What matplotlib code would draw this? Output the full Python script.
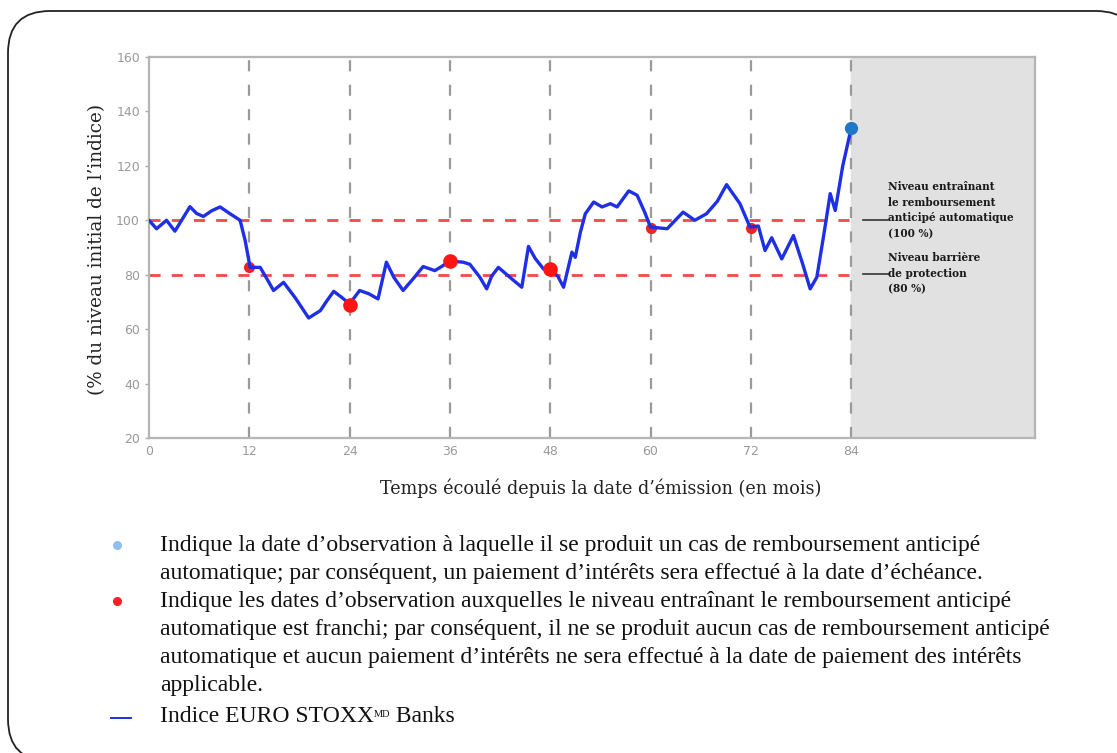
import matplotlib
matplotlib.use("Agg")
import matplotlib.pyplot as plt
from matplotlib.patches import FancyBboxPatch

# ---- data (months, % of initial level) ----
months = [0, 0.9, 2.1, 3.1, 4.0, 4.9, 5.7, 6.5, 7.5, 8.5, 9.7, 10.9, 11.5, 12.1, 13.3,
          14.2, 14.9, 16.1, 17.5, 19.1, 20.5, 21.3, 22.1, 23.0, 24.0, 25.2, 26.3, 27.4,
          28.4, 29.3, 30.4, 31.6, 32.8, 34.2, 35.1, 36.0, 37.6, 38.4, 39.6, 40.4, 41.0,
          41.8, 43.2, 44.6, 45.4, 46.2, 47.2, 48.0, 48.9, 49.6, 50.6, 51.0, 51.6, 52.2,
          53.2, 54.2, 55.2, 56.0, 57.4, 58.4, 59.3, 60.0, 62.0, 63.9, 65.3, 66.7, 68.0,
          69.1, 70.7, 71.9, 72.9, 73.7, 74.5, 75.7, 77.1, 78.2, 79.1, 79.9, 80.8, 81.5,
          82.1, 83.0, 84.0]
index_level = [100, 96.9, 100, 96, 100.5, 105, 102.5, 101.4, 103.5, 104.9, 102.4, 100, 92.6,
               82.7, 82.7, 78.0, 74.2, 77.2, 71.5, 64.1, 66.8, 70.5, 73.9, 71.8, 69.3, 74.2,
               73.0, 71.1, 84.6, 79.0, 74.2, 78.5, 83, 81.5, 83.2, 85, 84.6, 83.8, 79, 74.8,
               79.5, 82.7, 79.0, 75.4, 90.4, 86.0, 82.1, 82, 79.5, 75.4, 88.3, 86.4, 95.5,
               102.4, 106.7, 104.9, 106.1, 104.9, 110.8, 109.2, 103.0, 97.5, 96.9, 103, 100,
               102.4, 107.0, 113.1, 106.1, 97.5, 97.9, 88.9, 93.6, 85.8, 94.4, 84.0, 74.8,
               79.1, 96.0, 109.8, 103.6, 120.0, 133.7]

obs_months_red = [12, 24, 36, 48, 60, 72]
obs_values_red = [83, 69, 85, 82, 97, 97]
obs_month_blue = [84]
obs_value_blue = [134]

autocall_level = 100
barrier_level = 80
obs_dates = [12, 24, 36, 48, 60, 72, 84]
y_ticks = [20, 40, 60, 80, 100, 120, 140, 160]
x_ticks = [0, 12, 24, 36, 48, 60, 72, 84]

W, H = 1117, 753
fig = plt.figure(figsize=(W / 100, H / 100), dpi=100)

# ---- background (frame) ----
bg = fig.add_axes([0, 0, 1, 1])
bg.set_zorder(0)
bg.set_xlim(0, W)
bg.set_ylim(H, 0)
bg.axis('off')
frame = FancyBboxPatch((8, 11), 1130, 750, boxstyle="round,pad=0,rounding_size=42",
                       fc='white', ec='#222222', lw=1.3, clip_on=False)
bg.add_patch(frame)

# ---- chart ----
ax = fig.add_axes([149 / W, 1 - 438 / H, (1035 - 149) / W, (438 - 57) / H])
ax.set_zorder(2)
ax.set_xlim(0, 106)
ax.set_ylim(20, 160)
ax.axvspan(84, 106, color='#e1e1e1', zorder=0)
for s in ax.spines.values():
    s.set_color('#b5b5b5')
    s.set_linewidth(1.6)

for d in obs_dates:
    ax.axvline(d, color='#9a9a9a', lw=1.6, dashes=(5, 6), zorder=1)
ax.hlines([autocall_level, barrier_level], 0, 84, colors='#f04a4a', lw=2.0,
          linestyles=(0, (4, 4)), zorder=2)

small_set = (12, 60, 72)
ax.plot([m for m in obs_months_red if m in small_set],
        [v for m, v in zip(obs_months_red, obs_values_red) if m in small_set],
        'o', color='#ee2222', ms=7, zorder=3)
ax.plot(months, index_level, color='#1f2fe6', lw=2.4, solid_joinstyle='round',
        solid_capstyle='round', zorder=4)
ax.plot([m for m in obs_months_red if m not in small_set],
        [v for m, v in zip(obs_months_red, obs_values_red) if m not in small_set],
        'o', color='#ff1414', ms=9.5, zorder=5)
ax.plot(obs_month_blue, obs_value_blue, 'o', color='#1f78c4', ms=8.5, zorder=5)

ax.set_xticks(x_ticks)
ax.set_yticks(y_ticks)
ax.tick_params(axis='both', colors='#a8a8a8', labelcolor='#999999', labelsize=9,
               length=3, width=1)
ax.tick_params(axis='x', length=0, pad=5)
for lab in ax.get_xticklabels() + ax.get_yticklabels():
    lab.set_family('DejaVu Sans')

# ---- overlay (texts) ----
ov = fig.add_axes([0, 0, 1, 1])
ov.set_zorder(3)
ov.set_xlim(0, W)
ov.set_ylim(H, 0)
ov.axis('off')
ov.patch.set_alpha(0)

ov.text(97, 249, "(% du niveau initial de l\u2019indice)", family='DejaVu Serif',
        fontsize=13.2, color='#222222', ha='center', va='center', rotation=90)
ov.text(601, 488, "Temps écoulé depuis la date d\u2019émission (en mois)", family='DejaVu Serif',
        fontsize=12.7, color='#222222', ha='center', va='center')

ann_kw = dict(family='DejaVu Serif', fontweight='bold', fontsize=7.6, color='#1a1a1a',
              ha='left', va='center', linespacing=1.5)
ov.text(888, 210, "Niveau entraînant\nle remboursement\nanticipé automatique\n(100 %)", **ann_kw)
ov.text(888, 273, "Niveau barrière\nde protection\n(80 %)", **ann_kw)
ov.plot([863, 888], [219.5, 219.5], color='#333333', lw=1.2)
ov.plot([863, 888], [274, 274], color='#333333', lw=1.2)

serif = 'Liberation Serif'
txt_kw = dict(fontsize=17.0, family=serif, color='#111111', va='center', ha='left')
lines1 = ["Indique la date d\u2019observation à laquelle il se produit un cas de remboursement anticipé",
          "automatique; par conséquent, un paiement d\u2019intérêts sera effectué à la date d\u2019échéance."]
lines2 = ["Indique les dates d\u2019observation auxquelles le niveau entraînant le remboursement anticipé",
          "automatique est franchi; par conséquent, il ne se produit aucun cas de remboursement anticipé",
          "automatique et aucun paiement d\u2019intérêts ne sera effectué à la date de paiement des intérêts",
          "applicable."]
ys1 = [545, 573]
ys2 = [602, 630, 657, 685]
for s, y in zip(lines1, ys1):
    ov.text(160, y, s, **txt_kw)
for s, y in zip(lines2, ys2):
    ov.text(160, y, s, **txt_kw)
ov.plot([117], [545], 'o', color='#8fbff5', ms=5.5)
ov.plot([117], [601], 'o', color='#f52424', ms=5.5)
ov.plot([111, 131], [718, 718], color='#2030e0', lw=1.4)

t1 = ov.text(160, 716, "Indice EURO STOXX", **txt_kw)
t2 = ov.annotate("MD", xy=(1.0, 0.78), xycoords=t1, ha='left', va='top',
                 fontsize=7.5, family=serif, color='#111111')
ov.annotate(" Banks", xy=(1.0, 0.0), xycoords=(t2, t1), ha='left', va='bottom',
            fontsize=17.0, family=serif, color='#111111')

fig.savefig("out.png", dpi=100)
